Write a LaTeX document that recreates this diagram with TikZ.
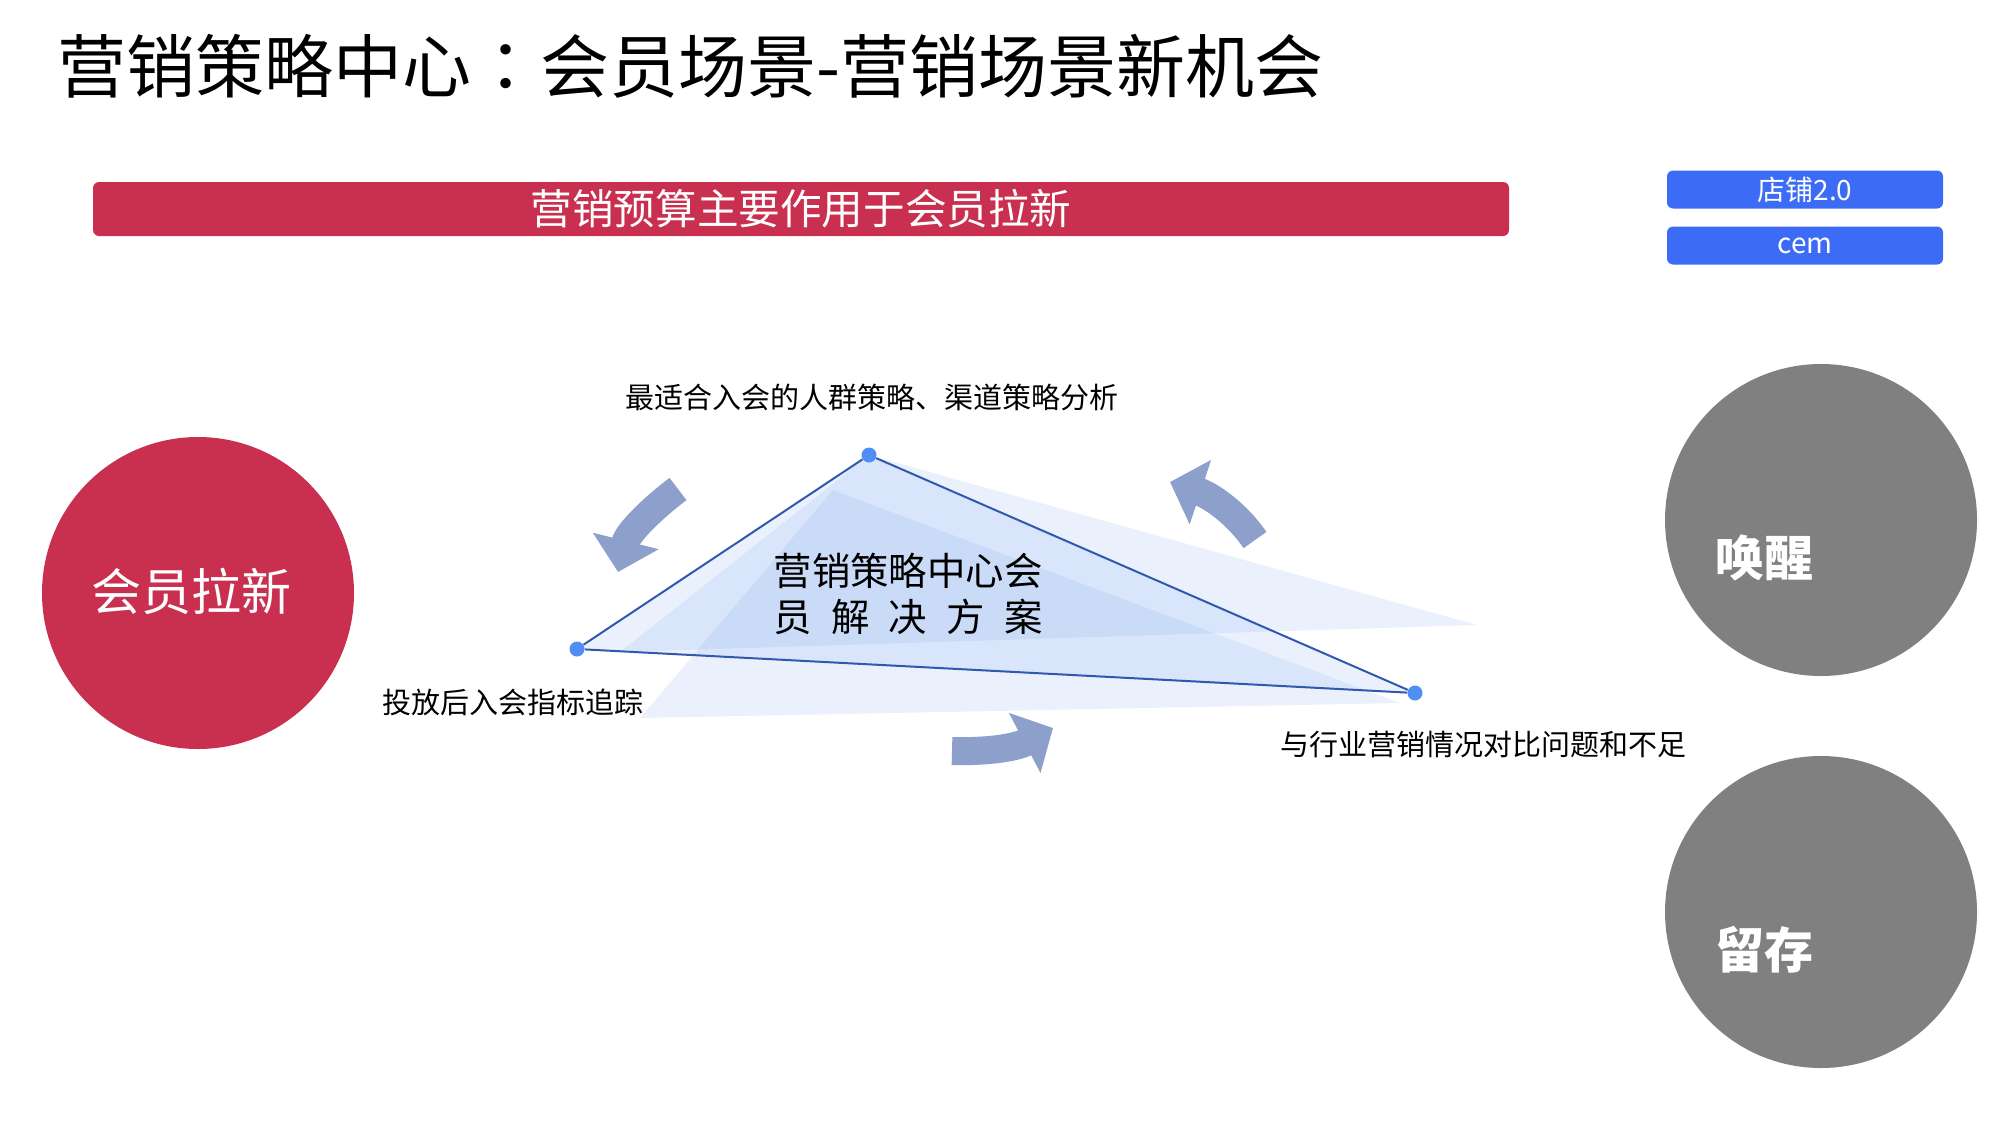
\documentclass[tikz,border=0pt]{standalone}
\usepackage{fontspec}
\setmainfont{Noto Sans CJK SC}
\newfontfamily\tcfont{Noto Sans CJK TC}
\usetikzlibrary{arrows.meta,positioning,calc}
\definecolor{brandred}{RGB}{201,48,79}
\definecolor{btnblue}{RGB}{60,108,245}
\definecolor{circgray}{RGB}{128,128,128}
\definecolor{arrblue}{RGB}{140,160,203}
\definecolor{paleblue}{RGB}{100,150,235}
\definecolor{edgeblue}{RGB}{47,88,175}
\definecolor{dotblue}{RGB}{80,142,245}

\begin{document}
\begin{tikzpicture}[x=0.5pt,y=-0.5pt,
  bar/.style={fill=brandred,rounded corners=3pt,minimum width=708pt,minimum height=27pt,inner sep=0pt,text=white,font=\fontsize{20.8}{24}\selectfont},
  btn/.style={fill=btnblue,rounded corners=3pt,minimum width=138pt,minimum height=19pt,inner sep=0pt,text=white,font=\fontsize{14}{16}\selectfont},
  bigcirc/.style={circle,minimum size=156pt,inner sep=0pt,text=white},
  tri/.style={fill=paleblue,fill opacity=0.13},
  edge/.style={draw=edgeblue,line width=1pt},
  dot/.style={circle,fill=dotblue,minimum size=7.5pt,inner sep=0pt},
  lbl/.style={font=\fontsize{14.5}{17}\selectfont,inner sep=0pt},
  turn/.style={draw=arrblue,line width=14pt,-{Triangle[length=16pt,width=33pt]}}
]
\useasboundingbox (0,0) rectangle (2000,1125);
\node[anchor=west,inner sep=0pt,font=\fontsize{34.5}{40}\selectfont] (title) at (57,66) {营销策略中心{\tcfont ：}会员场景-营销场景新机会};
\node[bar] (budget) at (801,209) {营销预算主要作用于会员拉新};
\node[btn] (shop) at (1805,189.5) {店铺2.0};
\node[btn] (cem) at (1805,245.5) {cem};
\node[bigcirc,fill=brandred] (acq) at (198,593) {};
\node[text=white,font=\fontsize{25}{30}\selectfont] at ([shift={(-7,-2)}]acq.center) {会员拉新};
\node[bigcirc,fill=circgray] (wake) at (1821,520) {};
\node[bigcirc,fill=circgray] (keep) at (1821,912) {};
\node[text=white,font=\fontsize{24.5}{30}\selectfont\bfseries] at ([shift={(-57,38)}]wake.center) {唤醒};
\node[text=white,font=\fontsize{24.5}{30}\selectfont\bfseries] at ([shift={(-57,38)}]keep.center) {留存};
\coordinate (B1) at (1477,625);
\coordinate (B2) at (620,652);
\coordinate (C0) at (833,490);
\coordinate (C1) at (640,718);
\coordinate (C2) at (1400,703);
\coordinate (pt) at (869,455);
\coordinate (pl) at (577,649);
\coordinate (pr) at (1415,693);
\fill[tri] (pt) -- (B1) -- (B2) -- cycle;
\fill[tri] (C0) -- (C1) -- (C2) -- cycle;
\fill[tri] (pt) -- (pl) -- (pr) -- cycle;
\node[dot] (top) at (pt) {};
\node[dot] (left) at (pl) {};
\node[dot] (right) at (pr) {};
\draw[edge] (top) -- (left) -- (right) -- (top);
\node[align=center,inner sep=0pt,font=\fontsize{19.2}{23}\selectfont] (core) at (908,594) {营销策略中心会\\\makebox[7em][s]{员\hfil 解\hfil 决\hfil 方\hfil 案}};
\node[lbl] (crowd) at (872,397) {最适合入会的人群策略、渠道策略分析};
\node[lbl] (track) at (513,702) {投放后入会指标追踪};
\node[lbl] (bench) at (1483,744) {与行业营销情况对比问题和不足};
\coordinate (a1s) at (678,489);
\coordinate (a1e) at (618,572);
\coordinate (a2s) at (1255,540);
\coordinate (a2e) at (1170,482);
\coordinate (a3s) at (952,751);
\coordinate (a3e) at (1053,728);
\draw[turn] (a1s) .. controls (654,507) and (628,532) .. (a1e);
\draw[turn] (a2s) .. controls (1238,515) and (1212,496) .. (a2e);
\draw[turn] (a3s) .. controls (985,752) and (1015,748) .. (a3e);
\end{tikzpicture}
\end{document}
